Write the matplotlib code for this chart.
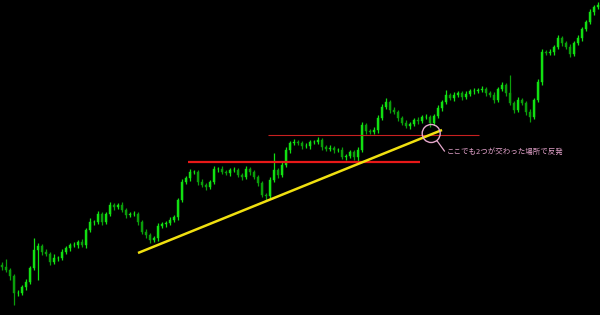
import numpy as np
import matplotlib
matplotlib.use('Agg')
import matplotlib.pyplot as plt
from matplotlib.patches import Ellipse

plt.rcParams['font.family'] = ['Noto Sans CJK JP', 'DejaVu Sans']

# chart levels (screen rows, so smaller = higher price)
first_open = 265
closes = [267, 270, 276, 293, 293, 287, 282, 268, 250, 246,
          252, 254, 262, 258, 258, 252, 248, 245, 245, 242,
          245, 230, 222, 222, 214, 222, 214, 205, 207, 205,
          210, 215, 214, 214, 222, 232, 235, 240, 238, 226,
          224, 223, 220, 217, 200, 182, 178, 172, 172, 182,
          185, 187, 182, 169, 169, 172, 173, 170, 170, 175,
          177, 169, 172, 177, 183, 195, 196, 180, 170, 175,
          165, 150, 143, 142, 143, 146, 146, 142, 142, 140,
          147, 149, 148, 150, 150, 157, 156, 152, 157, 150,
          125, 131, 132, 130, 118, 107, 102, 110, 112, 118,
          123, 126, 124, 120, 121, 117, 117, 123, 116, 108,
          102, 95, 98, 95, 93, 97, 94, 91, 91, 90,
          89, 93, 95, 100, 89, 85, 93, 103, 110, 100,
          103, 112, 117, 100, 82, 52, 53, 52, 47, 38,
          43, 47, 54, 43, 38, 29, 22, 12, 7, 5]
wick_up = [3, 8, 2, 2, 3, 2, 3, 2, 12, 3,
           2, 3, 2, 4, 2, 3, 2, 2, 3, 2,
           3, 2, 4, 2, 3, 2, 2, 3, 2, 2,
           3, 2, 2, 3, 2, 2, 3, 2, 2, 3,
           2, 2, 3, 2, 2, 3, 2, 3, 2, 2,
           3, 2, 2, 3, 2, 3, 2, 2, 3, 2,
           2, 3, 2, 2, 2, 2, 2, 3, 17, 2,
           3, 3, 2, 3, 2, 2, 3, 2, 2, 3,
           2, 2, 3, 2, 2, 3, 2, 2, 2, 3,
           3, 2, 2, 3, 3, 3, 4, 2, 3, 2,
           2, 3, 2, 2, 3, 2, 3, 2, 2, 3,
           2, 5, 2, 3, 2, 2, 3, 2, 3, 2,
           3, 2, 2, 3, 2, 3, 2, 18, 2, 3,
           2, 2, 3, 2, 3, 3, 2, 3, 2, 3,
           2, 2, 3, 2, 3, 2, 2, 3, 2, 3]
wick_dn = [3, 2, 4, 12, 3, 2, 3, 2, 2, 30,
           3, 2, 3, 2, 3, 2, 2, 3, 2, 3,
           2, 3, 2, 3, 2, 3, 2, 2, 3, 2,
           2, 3, 2, 2, 3, 2, 3, 3, 2, 3,
           2, 3, 2, 2, 3, 2, 2, 3, 2, 3,
           2, 3, 2, 2, 3, 2, 2, 3, 2, 2,
           3, 2, 3, 2, 3, 2, 4, 2, 2, 3,
           2, 2, 3, 2, 2, 3, 2, 3, 2, 2,
           3, 2, 2, 3, 2, 2, 3, 2, 3, 5,
           2, 3, 2, 2, 3, 2, 2, 3, 2, 3,
           2, 2, 3, 2, 3, 2, 2, 4, 2, 2,
           3, 2, 2, 3, 2, 3, 2, 2, 3, 2,
           2, 3, 2, 3, 2, 2, 3, 2, 3, 2,
           2, 3, 5, 2, 2, 3, 2, 2, 3, 2,
           3, 2, 3, 2, 2, 3, 2, 2, 3, 2]

# drawn objects (time index, level)
trend_start = (34, 253)
trend_end = (110, 130)
support_low = (46.5, 104.5, 162)   # start idx, end idx, level
support_high = (66.5, 119.2, 135)
touch_point = (107.3, 133.5)
note = 'ここでも2つが交わった場所で反発'

opens = [first_open] + closes[:-1]
idx = np.arange(len(closes))
o = np.array(opens, dtype=float)
c = np.array(closes, dtype=float)
top = np.minimum(o, c)
bot = np.maximum(o, c)
highs = top - np.array(wick_up)
lows = bot + np.array(wick_dn)

fig = plt.figure(figsize=(6, 3.15), dpi=100, facecolor='black')
ax = fig.add_axes([0, 0, 1, 1])
ax.set_facecolor('black')

up = c <= o  # rows shrink as price rises
cols = np.where(up, '#12e012', '#0b9e0b')

# candles
ax.vlines(idx, highs, lows, colors=cols, linewidth=0.9, zorder=2)
ax.bar(idx, bot - top + 0.8, bottom=top - 0.4, width=0.7, color=cols,
       edgecolor=cols, linewidth=0.3, zorder=3)

# trend line and horizontal lines
ax.plot([trend_start[0], trend_end[0]], [trend_start[1], trend_end[1]],
        color='#f0e010', linewidth=1.8, solid_capstyle='butt', zorder=5)
ax.hlines(support_low[2], support_low[0], support_low[1], color='#e81818',
          linewidth=1.6, zorder=4)
ax.hlines(support_high[2], support_high[0], support_high[1], color='#c82020',
          linewidth=0.8, zorder=4)

# circled touch point and note (4 px per candle on x)
ax.add_patch(Ellipse(touch_point, width=18 / 4.0, height=18, fill=False,
                     edgecolor='#e6a8cc', linewidth=1.0, zorder=6))
ax.plot([touch_point[0] + 1.5, touch_point[0] + 3.3], [141, 151],
        color='#e6a8cc', linewidth=0.9, zorder=6)
ax.text(touch_point[0] + 3.9, 152, note, color='#e0a0c8', fontsize=5.4,
        ha='left', va='center', zorder=7)

ax.set_xlim(-0.5, 149.5)
ax.set_ylim(315, 0)
ax.axis('off')

plt.savefig('out.png', dpi=100, facecolor='black')
